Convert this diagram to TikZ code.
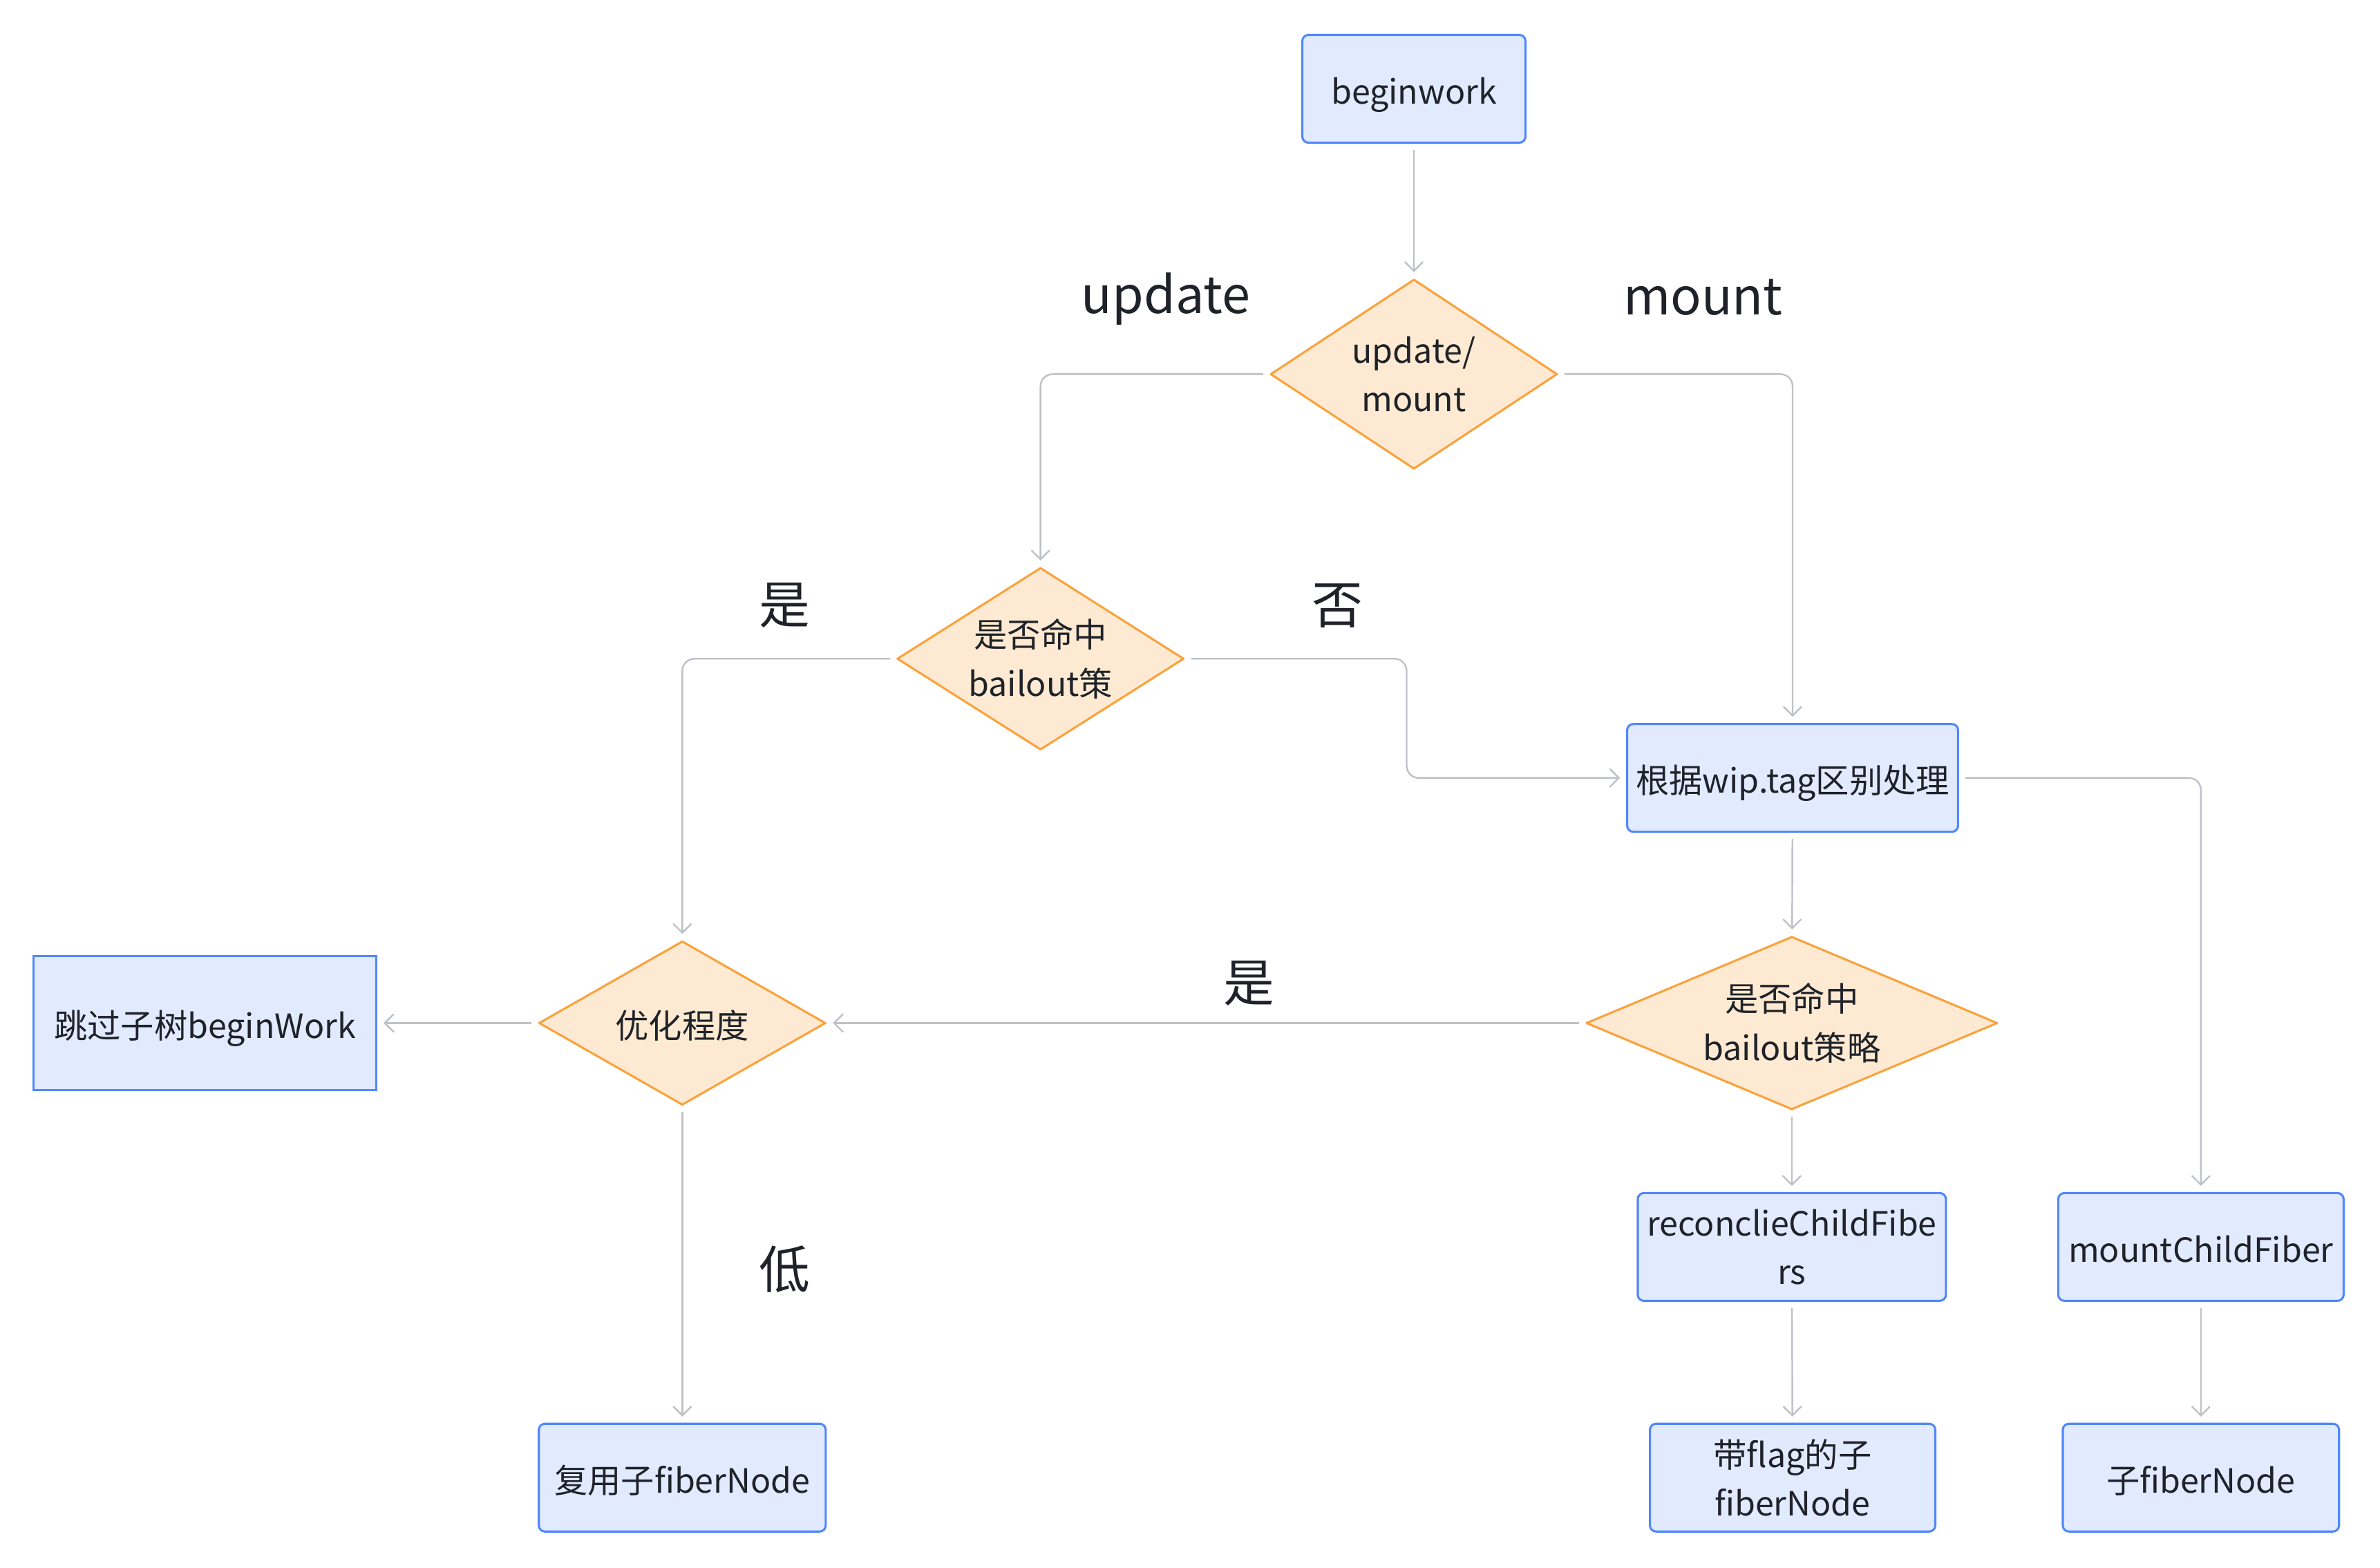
\documentclass[tikz,border=0pt]{standalone}
\usepackage{fontspec}
\setmainfont{Noto Sans CJK SC}
\usetikzlibrary{shapes.geometric,arrows.meta}
\definecolor{boxfill}{HTML}{E1EAFF}
\definecolor{boxline}{HTML}{5087FA}
\definecolor{decfill}{HTML}{FEEAD2}
\definecolor{decline}{HTML}{FAA23C}
\definecolor{linkgray}{HTML}{BEC1C6}
\definecolor{ink}{HTML}{1F2329}
\tikzset{
  procbox/.style={draw=boxline,fill=boxfill,line width=0.7pt,rounded corners=2pt,
    align=center,text=ink,inner sep=0pt,minimum height=35.5pt,
    font=\fontsize{11}{16}\selectfont},
  decision/.style={diamond,draw=decline,fill=decfill,line width=0.7pt,line join=round,
    align=center,text=ink,inner sep=0pt,font=\fontsize{11}{16}\selectfont},
  oneline/.style={text height=10pt,text depth=0pt},
  conn/.style={draw=linkgray,line width=0.55pt,-{Straight Barb[length=3pt,width=6pt]},
    shorten <=2pt,shorten >=2pt,rounded corners=4pt},
  edgetext/.style={text=ink,font=\fontsize{16.8}{20}\selectfont}
}
\begin{document}
\begin{tikzpicture}[x=0.5pt,y=-0.5pt]
  \useasboundingbox (0,0) rectangle (1568,1033);
  % nodes
  \node[procbox,oneline,minimum width=73.5pt] (begin) at (931.5,58.5) {beginwork};
  \node[decision,aspect=1.51,minimum width=94.5pt,minimum height=62.5pt] (mode) at (931.5,246.5) {update/\\mount};
  \node[decision,aspect=1.575,minimum width=94.5pt,minimum height=60pt] (bail1) at (685.5,434) {是否命中\\bailout策};
  \node[procbox,oneline,minimum width=109pt] (tag) at (1181,512.5) {根据wip.tag区别处理};
  \node[decision,oneline,aspect=1.75,minimum width=94.5pt,minimum height=54pt] (level) at (449.5,674) {优化程度};
  \node[procbox,oneline,rounded corners=0pt,minimum width=113pt,minimum height=44pt] (skip) at (135,674) {跳过子树beginWork};
  \node[decision,aspect=2.38,minimum width=135.5pt,minimum height=57pt] (bail2) at (1180.5,674) {是否命中\\bailout策略};
  \node[procbox,minimum width=101.5pt] (reconcile) at (1180.5,821.5) {reconclieChildFibe\\rs};
  \node[procbox,oneline,minimum width=94pt] (mountchild) at (1450,821.5) {mountChildFiber};
  \node[procbox,oneline,minimum width=94.5pt] (reuse) at (449.5,973.5) {复用子fiberNode};
  \node[procbox,minimum width=94pt] (flagchild) at (1181,973.5) {带flag的子\\fiberNode};
  \node[procbox,oneline,minimum width=91pt] (child) at (1450,973.5) {子fiberNode};
  % labels
  \node[edgetext] (lupdate) at (768,197) {update};
  \node[edgetext] (lmount) at (1122,196) {mount};
  \node[edgetext] (lyes1) at (517,399) {是};
  \node[edgetext] (lno) at (881,399) {否};
  \node[edgetext] (lyes2) at (823,648) {是};
  \node[edgetext] (llow) at (517,836) {低};
  % connectors
  \draw[conn] (begin) -- (mode);
  \draw[conn] (mode.west) -| (bail1.north);
  \draw[conn] (mode.east) -| (tag.north);
  \draw[conn] (bail1.west) -| (level.north);
  \draw[conn] (bail1.east) -- ++(146,0) |- (tag.west);
  \draw[conn] (tag.east) -| (mountchild.north);
  \draw[conn] (tag) -- (bail2);
  \draw[conn] (bail2.west) -- (level.east);
  \draw[conn] (level.west) -- (skip.east);
  \draw[conn] (level) -- (reuse);
  \draw[conn] (bail2.south) -- (reconcile.north);
  \draw[conn] (reconcile) -- (flagchild);
  \draw[conn] (mountchild) -- (child);
\end{tikzpicture}
\end{document}
